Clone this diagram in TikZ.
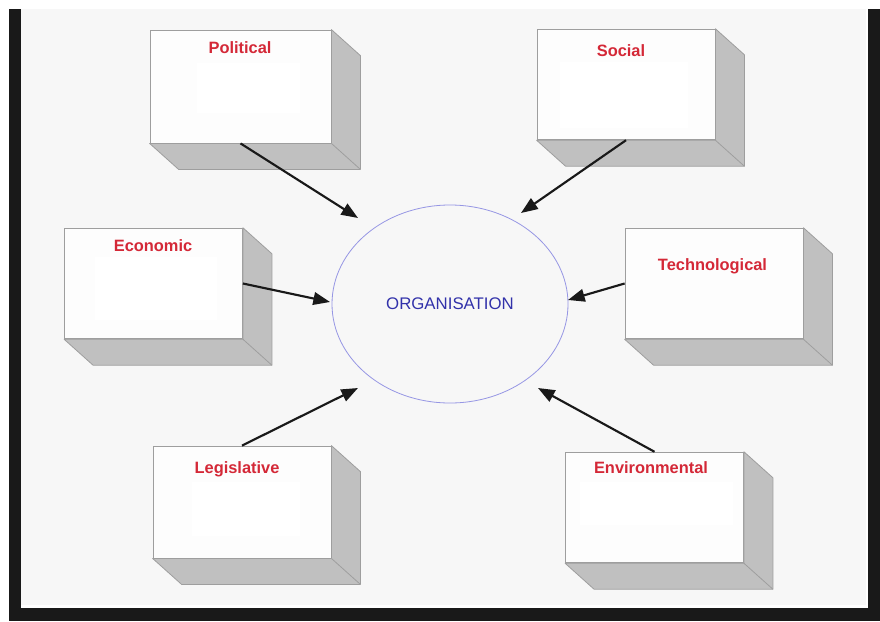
\documentclass[tikz,border=0pt]{standalone}
\usepackage{fontspec}
\setmainfont{Liberation Sans}
\usetikzlibrary{shapes.geometric, arrows.meta}
\definecolor{pagegray}{RGB}{247,247,247}
\definecolor{facewhite}{RGB}{253,253,253}
\definecolor{sidegray}{RGB}{192,192,192}
\definecolor{edgegray}{RGB}{158,158,158}
\definecolor{factorred}{RGB}{212,40,55}
\definecolor{orgblue}{RGB}{50,50,170}
\definecolor{ringblue}{RGB}{150,150,228}
\tikzstyle{frontface}=[draw=edgegray, fill=facewhite, line width=0.6pt, inner sep=0pt, minimum width=133.5pt, minimum height=83pt]
\tikzstyle{sideface}=[draw=edgegray, fill=sidegray, line width=0.6pt, line join=round]
\tikzstyle{factor}=[text=factorred, font=\fontsize{12.3}{14}\selectfont\bfseries, text height=8.8pt, text depth=0pt, inner sep=0pt]
\tikzstyle{orgshape}=[ellipse, draw=ringblue, line width=0.6pt, minimum width=177pt, minimum height=148.5pt, inner sep=0pt, text=orgblue, font=\fontsize{12.6}{15}\selectfont]
\tikzstyle{flow}=[-{Triangle[length=12.5pt,width=9.5pt]}, line width=1.6pt, black!90]

\begin{document}
\begin{tikzpicture}[x=0.75pt, y=-0.75pt]
% Frame
    \fill[white] (0,0) rectangle (880,621);
    \fill[black!90] (9,9) rectangle (880,621);
    \fill[white] (21,9) rectangle (868,608);
    \fill[pagegray] (21,9) rectangle (866,605);
% Front faces
    \node[frontface, minimum width=135.75pt, minimum height=84.75pt] (pol) at (240.5,86.5) {};
    \node[frontface] (soc) at (626,84.5) {};
    \node[frontface] (eco) at (153.5,283.5) {};
    \node[frontface] (tech) at (714,283.5) {};
    \node[frontface, minimum height=84pt] (leg) at (242,502) {};
    \node[frontface] (env) at (654.5,507.5) {};
% Sides and bottoms
    \filldraw[sideface] (pol.north east) -- ++(29,26) -- ([shift={(29,26)}]pol.south east) -- ([shift={(29,26)}]pol.south west) -- (pol.south west) -- (pol.south east) -- cycle;
    \draw[sideface] (pol.south east) -- ++(29,26);
    \filldraw[sideface] (soc.north east) -- ++(29,26) -- ([shift={(29,26)}]soc.south east) -- ([shift={(29,26)}]soc.south west) -- (soc.south west) -- (soc.south east) -- cycle;
    \draw[sideface] (soc.south east) -- ++(29,26);
    \filldraw[sideface] (eco.north east) -- ++(29,26) -- ([shift={(29,26)}]eco.south east) -- ([shift={(29,26)}]eco.south west) -- (eco.south west) -- (eco.south east) -- cycle;
    \draw[sideface] (eco.south east) -- ++(29,26);
    \filldraw[sideface] (tech.north east) -- ++(29,26) -- ([shift={(29,26)}]tech.south east) -- ([shift={(29,26)}]tech.south west) -- (tech.south west) -- (tech.south east) -- cycle;
    \draw[sideface] (tech.south east) -- ++(29,26);
    \filldraw[sideface] (leg.north east) -- ++(29,26) -- ([shift={(29,26)}]leg.south east) -- ([shift={(29,26)}]leg.south west) -- (leg.south west) -- (leg.south east) -- cycle;
    \draw[sideface] (leg.south east) -- ++(29,26);
    \filldraw[sideface] (env.north east) -- ++(29,26) -- ([shift={(29,26)}]env.south east) -- ([shift={(29,26)}]env.south west) -- (env.south west) -- (env.south east) -- cycle;
    \draw[sideface] (env.south east) -- ++(29,26);
% Blank text areas
    \fill[white] (197,63) rectangle (300,113);
    \fill[white] (560,62) rectangle (688,128);
    \fill[white] (95,257) rectangle (217,320);
    \fill[white] (192,482) rectangle (300,536);
    \fill[white] (580,482) rectangle (733,525);
% Labels
    \node[factor] (polText) at (240,48) {Political};
    \node[factor] (socText) at (621,50.5) {Social};
    \node[factor] (ecoText) at (153,246) {Economic};
    \node[factor] (techText) at (712.5,265) {Technological};
    \node[factor] (legText) at (237,467.5) {Legislative};
    \node[factor] (envText) at (651,467.5) {Environmental};
% Organisation
    \node[orgshape] (org) at (450,304) {ORGANISATION};
% Arrows
    \coordinate (polTip) at (358,218);
    \coordinate (socTip) at (521,213);
    \coordinate (ecoTip) at (330,302);
    \coordinate (techTip) at (568,300);
    \coordinate (legTip) at (358,388);
    \coordinate (envTip) at (538,388);
    \draw[flow] (pol.south) -- (polTip);
    \draw[flow] (soc.south) -- (socTip);
    \draw[flow] (eco.east) -- (ecoTip);
    \draw[flow] (tech.west) -- (techTip);
    \draw[flow] (leg.north) -- (legTip);
    \draw[flow] (env.north) -- (envTip);
\end{tikzpicture}
\end{document}
